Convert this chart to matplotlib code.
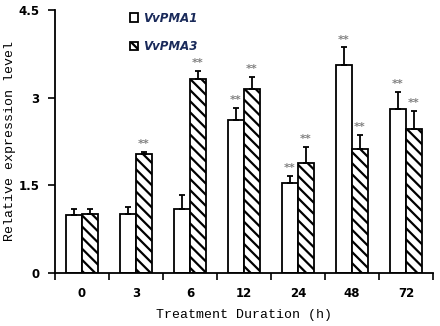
import numpy as np
import matplotlib.pyplot as plt

plt.rcParams['hatch.linewidth'] = 1.6

hours = ['0', '3', '6', '12', '24', '48', '72']
pma1 = [0.99, 1.0, 1.1, 2.62, 1.54, 3.56, 2.81]
pma1_err = [0.11, 0.13, 0.23, 0.2, 0.12, 0.3, 0.29]
pma3 = [1.0, 2.03, 3.32, 3.15, 1.88, 2.12, 2.46]
pma3_err = [0.1, 0.04, 0.13, 0.2, 0.27, 0.24, 0.31]
pma1_sig = ['', '', '', '**', '**', '**', '**']
pma3_sig = ['', '**', '**', '**', '**', '**', '**']

fig = plt.figure(figsize=(4.4, 3.26), dpi=100)
ax = fig.add_axes([0.125, 0.163, 0.859, 0.806])

x = np.arange(len(hours))
w = 0.3
zeros = np.zeros(len(hours))
ax.bar(x - w/2, pma1, w, color='white', edgecolor='black', linewidth=1.3,
       yerr=[zeros, pma1_err], capsize=2.5, error_kw=dict(elinewidth=1.3, capthick=1.3),
       label='VvPMA1')
ax.bar(x + w/2, pma3, w, color='white', edgecolor='black', linewidth=1.3, hatch='\\\\\\',
       yerr=[zeros, pma3_err], capsize=2.5, error_kw=dict(elinewidth=1.3, capthick=1.3),
       label='VvPMA3')

for i in range(len(hours)):
    if pma1_sig[i]:
        ax.text(x[i] - w/2, pma1[i] + pma1_err[i] + 0.05, pma1_sig[i], ha='center',
                va='bottom', color='#808080', fontsize=8, fontweight='bold')
    if pma3_sig[i]:
        ax.text(x[i] + w/2, pma3[i] + pma3_err[i] + 0.05, pma3_sig[i], ha='center',
                va='bottom', color='#808080', fontsize=8, fontweight='bold')

ax.set_xlim(-0.5, len(hours) - 0.5)
ax.set_ylim(0, 4.5)
ax.set_yticks([0, 1.5, 3, 4.5])
ax.set_yticklabels(['0', '1.5', '3', '4.5'], fontweight='bold', fontsize=8.5)
ax.set_xticks(x)
ax.set_xticklabels(hours, fontweight='bold', fontsize=8.5)
ax.set_xticks(np.arange(len(hours) + 1) - 0.5, minor=True)
ax.tick_params(axis='x', which='major', length=0, pad=10)
ax.tick_params(axis='x', which='minor', length=5, width=1.2, direction='out')
ax.tick_params(axis='y', length=5, width=1.2, direction='out', pad=6)
ax.spines['top'].set_visible(False)
ax.spines['right'].set_visible(False)
ax.spines['left'].set_linewidth(1.3)
ax.spines['bottom'].set_linewidth(1.3)

ax.set_ylabel('Relative expression level', family='Liberation Mono', fontsize=9.5)
ax.yaxis.set_label_coords(-0.103, 0.5)
ax.set_xlabel('Treatment Duration (h)', family='Liberation Mono', fontsize=9.5)
ax.xaxis.set_label_coords(0.5, -0.137)

leg = ax.legend(loc='upper left', bbox_to_anchor=(0.17, 1.035), frameon=False,
                handlelength=0.7, handleheight=0.7, labelspacing=1.3, handletextpad=0.4,
                prop=dict(style='italic', weight='bold', size=8.5))
for t in leg.get_texts():
    t.set_color('#1a2a5a')

fig.savefig('out.png', dpi=100)
